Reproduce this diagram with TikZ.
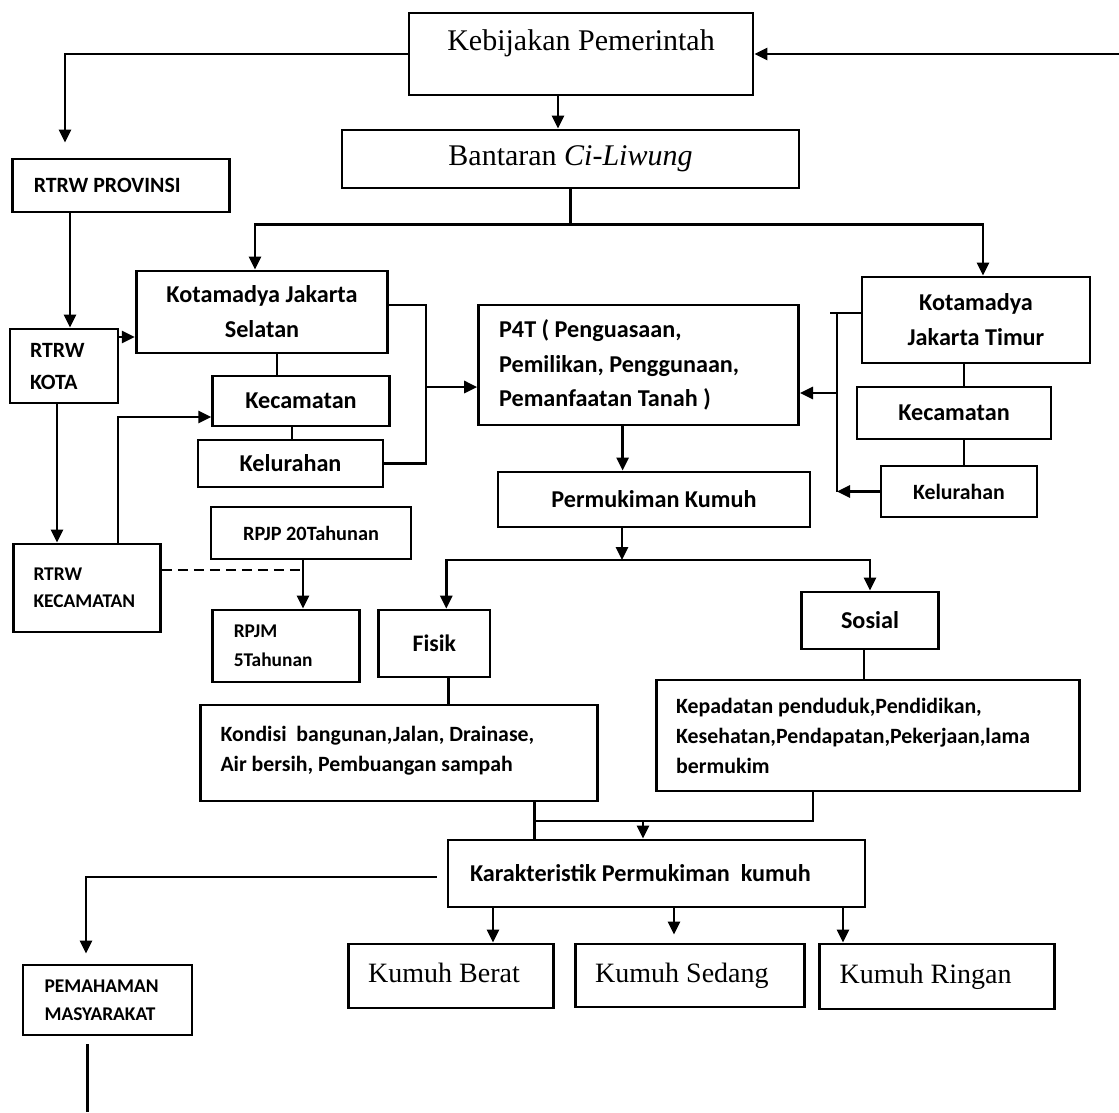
\documentclass[tikz,border=0pt]{standalone}
\usepackage{fontspec}
\setmainfont{Liberation Serif}
\newfontfamily\calibri{Carlito}
\usetikzlibrary{arrows.meta}

\begin{document}
\begin{tikzpicture}[x=1pt,y=-1pt,line width=2.7pt,
  box/.style={draw,line width=2.8pt,inner sep=0pt,align=center},
  lbox/.style 2 args={draw,line width=2.8pt,inner ysep=0pt,inner xsep=#1,text width=#2,align=flush left},
  sf/.style 2 args={font=\calibri\bfseries\fontsize{#1}{#2}\selectfont},
  rm/.style={font=\fontsize{#1}{#1}\selectfont},
  kumuh/.style={rm=28,text height=19pt,text depth=6pt},
  arr/.style={-{Triangle[length=13pt,width=12pt]}}]
\useasboundingbox (0,0) rectangle (1119,1112);

% top level
\node[box,rm=30,minimum width=344,minimum height=82,text height=20pt,text depth=28pt] (keb) at (581,54) {Kebijakan Pemerintah};
\node[box,rm=30,minimum width=457,minimum height=58] (ban) at (570.5,159) {Bantaran \textit{Ci-Liwung}};
\node[lbox={21pt}{174.5pt},sf={21.8}{27},minimum height=53] (prov) at (121,185.5) {RTRW PROVINSI};
\node[lbox={20pt}{68pt},sf={21.8}{32},minimum height=74] (kota) at (64,366) {RTRW\\KOTA};
\node[lbox={20pt}{107pt},sf={19.4}{27},minimum height=88] (kec) at (87,588) {RTRW\\KECAMATAN};

% Jakarta Selatan
\node[box,sf={24.2}{35},minimum width=251.5,minimum height=82] (ks) at (262,312) {Kotamadya Jakarta\\Selatan};
\node[box,sf={24.2}{30},minimum width=176.5,minimum height=50] (kecS) at (301,401) {Kecamatan};
\node[box,sf={24.2}{30},minimum width=185,minimum height=47] (kelS) at (290.5,463.5) {Kelurahan};
\node[box,sf={20.3}{26},minimum width=200,minimum height=52] (rpjp) at (311,533) {RPJP 20Tahunan};
\node[lbox={21.5pt}{104.5pt},sf={19.4}{29},minimum height=72] (rpjm) at (286,646) {RPJM\\5Tahunan};

% Jakarta Timur
\node[box,sf={24.2}{35},minimum width=228,minimum height=86] (kt) at (976,320) {Kotamadya\\Jakarta Timur};
\node[box,sf={24.2}{30},minimum width=194,minimum height=52] (kecT) at (954,413) {Kecamatan};
\node[box,sf={21.8}{28},minimum width=156,minimum height=51] (kelT) at (959,491.5) {Kelurahan};

% middle column
\node[lbox={20.5pt}{279pt},sf={24.2}{34.5},minimum height=120] (p4t) at (638.6,365) {P4T ( Penguasaan,\\Pemilikan, Penggunaan,\\Pemanfaatan Tanah )};
\node[box,sf={24.2}{30},minimum width=312,minimum height=55] (perm) at (654,499.5) {Permukiman Kumuh};
\node[box,sf={23.7}{30},minimum width=111.4,minimum height=67] (fisik) at (434.3,643.5) {Fisik};
\node[box,sf={24.2}{30},minimum width=136.6,minimum height=57] (sos) at (870,620.5) {Sosial};
\node[lbox={19.7pt}{357pt},sf={21.8}{30},minimum height=96,text depth=38pt] (kon) at (399,753) {Kondisi~ bangunan,Jalan, Drainase,\\Air bersih, Pembuangan sampah};
\node[lbox={20pt}{383.6pt},sf={21.8}{30},minimum height=111] (kep) at (868,735.5) {Kepadatan penduduk,Pendidikan,\\Kesehatan,Pendapatan,Pekerjaan,lama\\bermukim};
\node[lbox={22pt}{373pt},sf={24.2}{30},minimum height=67] (kar) at (656.5,873.5) {Karakteristik Permukiman~ kumuh};
\node[lbox={21.6pt}{125.8pt},sf={19.4}{28},minimum height=70] (pem) at (107.5,1000) {PEMAHAMAN\\MASYARAKAT};

% tingkat kumuh
\node[lbox={20pt}{165.6pt},kumuh,minimum height=64] (berat) at (451,976) {Kumuh Berat};
\node[lbox={20pt}{189.6pt},kumuh,minimum height=63] (sedang) at (690,975.5) {Kumuh Sedang};
\node[lbox={20pt}{194.6pt},kumuh,minimum height=65] (ringan) at (937,976.5) {Kumuh Ringan};

\coordinate (rin) at (1119,54);
\coordinate (jS) at (426,387);
\coordinate (jT) at (837,393);
\coordinate (rp) at ([xshift=-8pt]rpjp.south);
\coordinate (hl) at (622,560);
\coordinate (jK) at (534.6,821);
\coordinate (jA) at (643,821);
\coordinate (pemEnd) at (87.5,1112);

% connectors
\draw[arr] (rin) -- (keb.east);
\draw[arr,shorten >=15pt] (keb.west) -| ([xshift=-56pt]prov.north);
\draw[arr] ([xshift=-23pt]keb.south) -- ([xshift=-23pt]keb.south |- ban.north);
\draw (ban.south) -- ++(0,35) coordinate (bsplit);
\draw[arr] (bsplit) -| ([xshift=-7pt]ks.north);
\draw[arr] (bsplit) -| ([xshift=7pt]kt.north);

\draw[arr] ([xshift=-51pt]prov.south) -- ([xshift=-51pt]prov.south |- kota.north);
\draw[arr] ([yshift=29pt]kota.east) -- ([yshift=29pt]kota.east -| ks.west);
\draw[arr] ([xshift=-7pt]kota.south) -- ([xshift=-7pt]kota.south |- kec.north);
\draw[arr] ([xshift=31pt]kec.north) |- ([yshift=-16pt]kecS.west);
\draw ([xshift=15pt]ks.south) -- ([xshift=15pt]ks.south |- kecS.north);
\draw ([xshift=-9pt]kecS.south) -- ([xshift=-9pt]kecS.south |- kelS.north);
\draw ([yshift=7pt]ks.east) -- ([yshift=7pt]ks.east -| jS) -- (jS |- kelS.east) -- (kelS.east);
\draw[arr] (jS) -- (jS -| p4t.west);
\draw[arr] (rp) -- (rp |- rpjm.north);
\draw[dash pattern=on 10pt off 6pt] ([yshift=18pt]kec.east) -- ([yshift=18pt]kec.east -| rp);

\draw ([yshift=7pt]kt.west) -- ++(-31,0);
\draw ([yshift=7pt]kt.west -| jT) -- (jT |- kelT.west);
\draw[arr] (jT) -- (jT -| p4t.east);
\draw[arr] (kelT.west) -- (kelT.west -| jT);
\draw ([xshift=-12pt]kt.south) -- ([xshift=-12pt]kt.south |- kecT.north);
\draw ([xshift=10pt]kecT.south) -- ([xshift=10pt]kecT.south |- kelT.north);

\draw[arr] ([xshift=-16pt]p4t.south) -- ([xshift=-16pt]p4t.south |- perm.north);
\draw[arr] (hl |- perm.south) -- (hl);
\draw[arr] (hl) -| ([xshift=12pt]fisik.north);
\draw[arr] (hl) -| (sos.north);
\draw ([xshift=14pt]fisik.south) -- ([xshift=14pt]fisik.south |- kon.north);
\draw ([xshift=-6pt]sos.south) -- ([xshift=-6pt]sos.south |- kep.north);

\draw ([xshift=135.6pt]kon.south) -- ([xshift=135.6pt]kon.south |- kar.north);
\draw (jK) -| ([xshift=-55pt]kep.south);
\draw[arr] (jA) -- (jA |- kar.north);
\draw[arr,shorten <=10pt,shorten >=10pt] ([yshift=-3.5pt]kar.west) -| ([xshift=-21.5pt]pem.north);
\draw[shorten <=8pt] ([xshift=-20pt]pem.south) -- (pemEnd);

\draw[arr] ([xshift=-163.5pt]kar.south) -- ([xshift=-163.5pt]kar.south |- berat.north);
\draw[arr,shorten >=8pt] ([xshift=17.5pt]kar.south) -- ([xshift=17.5pt]kar.south |- sedang.north);
\draw[arr] ([xshift=186.5pt]kar.south) -- ([xshift=186.5pt]kar.south |- ringan.north);
\end{tikzpicture}
\end{document}
